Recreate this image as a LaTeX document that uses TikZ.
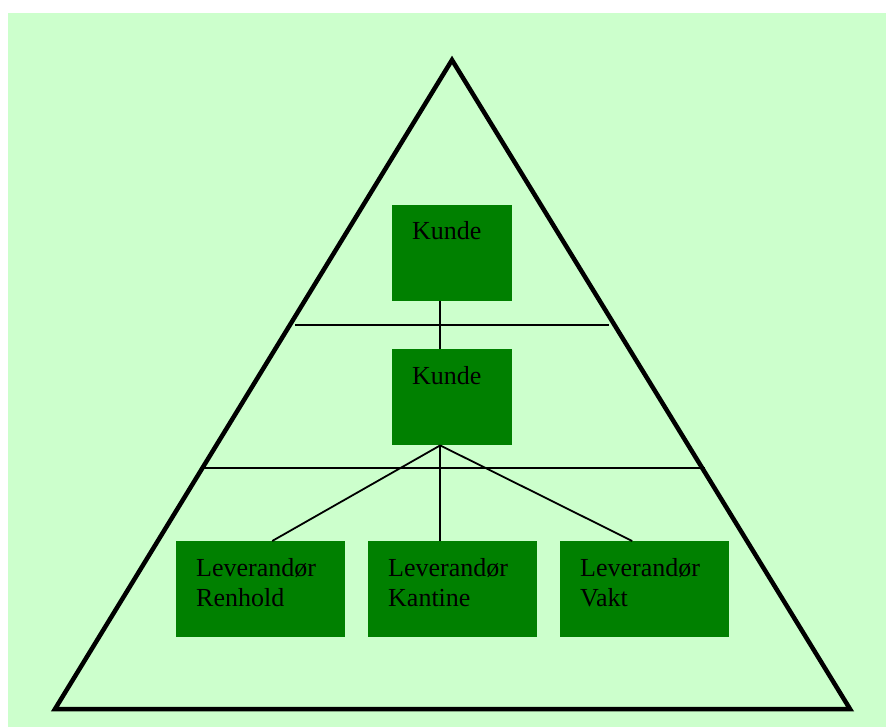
\documentclass[tikz,border=0pt]{standalone}
\usepackage{fontspec}
\setmainfont{Liberation Serif}
\usetikzlibrary{calc}
\definecolor{paleground}{HTML}{CCFFCC}
\definecolor{boxgreen}{HTML}{008000}
\tikzset{
  unitbox/.style={fill=boxgreen, draw=none, inner sep=0pt, anchor=north west},
  boxtext/.style={anchor=base west, inner sep=0pt, font=\fontsize{26}{30}\selectfont, align=left, text=black},
  link/.style={draw=black, line width=1.8pt},
  frame/.style={draw=black, line width=4.5pt, line join=miter}
}
\begin{document}
\begin{tikzpicture}[x=1pt, y=-1pt]
  % page and background
  \useasboundingbox (0,0) rectangle (886,727);
  \fill[white] (0,0) rectangle (886,727);
  \fill[paleground] (8,13) rectangle (886,727);

  % outer pyramid
  \draw[frame] (452,60) -- (850,709) -- (55,709) -- cycle;

  % level dividers
  \draw[link] (295,325) -- (609,325);
  \draw[link] (203,468) -- (705,468);

  % boxes
  \node[unitbox, minimum width=120pt, minimum height=96pt] (k1) at (392,205) {};
  \node[unitbox, minimum width=120pt, minimum height=96pt] (k2) at (392,349) {};
  \node[unitbox, minimum width=169pt, minimum height=96pt] (l1) at (176,541) {};
  \node[unitbox, minimum width=169pt, minimum height=96pt] (l2) at (368,541) {};
  \node[unitbox, minimum width=169pt, minimum height=96pt] (l3) at (560,541) {};

  % labels (the base anchor of a two-line node sits on its second line)
  \node[boxtext] (t1) at ($(k1.north west)+(20,35)$) {Kunde};
  \node[boxtext] (t2) at ($(k2.north west)+(20,35)$) {Kunde};
  \node[boxtext] (t3) at ($(l1.north west)+(20,65)$) {Leverandør\\Renhold};
  \node[boxtext] (t4) at ($(l2.north west)+(20,65)$) {Leverandør\\Kantine};
  \node[boxtext] (t5) at ($(l3.north west)+(20,65)$) {Leverandør\\Vakt};

  % connectors
  \coordinate (k1s) at ($(k1.south)+(-12,0)$);
  \coordinate (k2n) at ($(k2.north)+(-12,0)$);
  \coordinate (k2s) at ($(k2.south)+(-12,0)$);
  \coordinate (l1n) at ($(l1.north)+(11.5,0)$);
  \coordinate (l2n) at ($(l2.north)+(-12.5,0)$);
  \coordinate (l3n) at ($(l3.north)+(-12.5,0)$);
  \draw[link] (k1s) -- (k2n);
  \draw[link] (k2s) -- (l1n);
  \draw[link] (k2s) -- (l2n);
  \draw[link] (k2s) -- (l3n);
\end{tikzpicture}
\end{document}
